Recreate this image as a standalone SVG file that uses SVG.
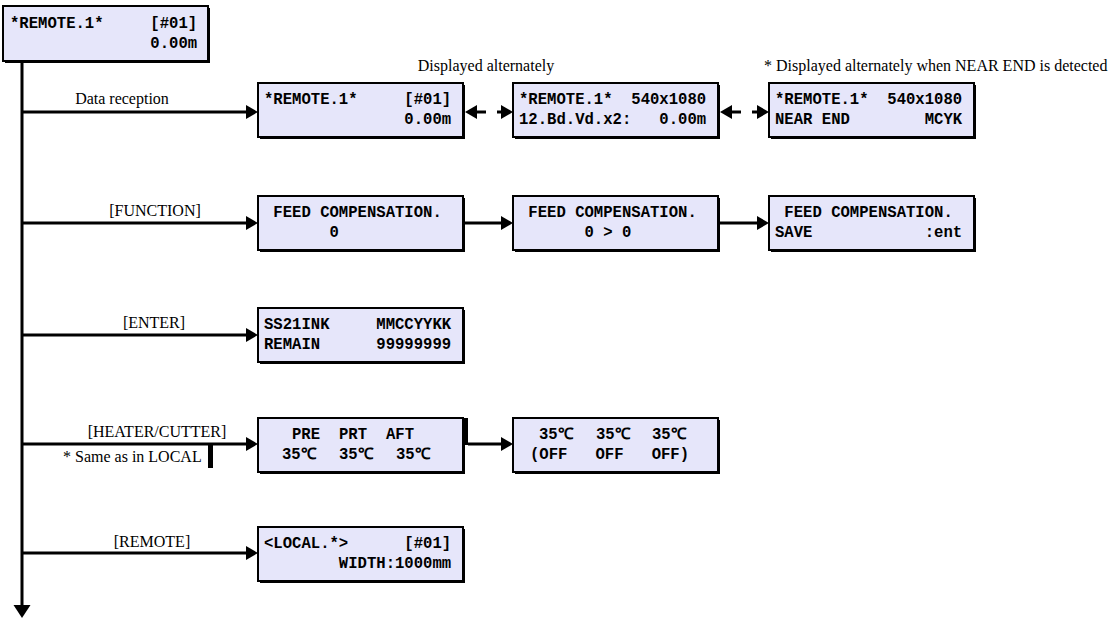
<svg xmlns="http://www.w3.org/2000/svg" width="1111" height="623" viewBox="0 0 1111 623">
<defs>
<style>
.sh{fill:#000}
.bx{fill:#E6E6FA;stroke:#000;stroke-width:2}
.lcd{font-family:"Liberation Mono","Courier New",monospace;font-weight:bold;font-size:15.6px;fill:#000;white-space:pre}
.lbl{font-family:"Liberation Serif","Times New Roman",serif;font-size:16px;fill:#000}
.ln{stroke:#000;stroke-width:3;fill:none}
.la{stroke:#000;stroke-width:3;fill:none;marker-end:url(#ah)}
.lv{stroke:#000;stroke-width:3;fill:none;marker-end:url(#av)}
</style>
<marker id="ah" markerUnits="userSpaceOnUse" markerWidth="13" markerHeight="14" refX="4" refY="7" orient="auto">
<path d="M0,0 L12,7 L0,14 Z" fill="#000"/>
</marker>
<marker id="av" markerUnits="userSpaceOnUse" markerWidth="14" markerHeight="18" refX="4" refY="8.5" orient="auto">
<path d="M0,0 L13,8.5 L0,17 Z" fill="#000"/>
</marker>
</defs>
<rect width="1111" height="623" fill="#fff"/>

<g id="connectors">
<line class="lv" x1="22" y1="61" x2="22" y2="609"/>
<line class="la" x1="22" y1="112" x2="250" y2="112"/>
<line class="la" x1="22" y1="223" x2="250" y2="223"/>
<line class="la" x1="22" y1="335" x2="250" y2="335"/>
<line class="la" x1="22" y1="444" x2="250" y2="444"/>
<line class="la" x1="22" y1="553" x2="250" y2="553"/>
<line class="la" x1="486" y1="112" x2="473" y2="112"/>
<line class="la" x1="497" y1="112" x2="505" y2="112"/>
<line class="la" x1="741" y1="112" x2="728" y2="112"/>
<line class="la" x1="752" y1="112" x2="761" y2="112"/>
<line class="la" x1="464" y1="223" x2="505" y2="223"/>
<line class="la" x1="719" y1="223" x2="761" y2="223"/>
<line class="la" x1="468" y1="444" x2="505" y2="444"/>
<rect x="463" y="418" width="5" height="27" fill="#000"/>
<rect x="208" y="445" width="5" height="23" fill="#000"/>
</g>

<g id="labels">
<text class="lbl" x="122" y="104" text-anchor="middle">Data reception</text>
<text class="lbl" x="155" y="216" text-anchor="middle">[FUNCTION]</text>
<text class="lbl" x="154" y="328" text-anchor="middle">[ENTER]</text>
<text class="lbl" x="157" y="437" text-anchor="middle">[HEATER/CUTTER]</text>
<text class="lbl" x="63" y="462">* Same as in LOCAL</text>
<text class="lbl" x="152" y="547" text-anchor="middle">[REMOTE]</text>
<text class="lbl" x="486" y="71" text-anchor="middle">Displayed alternately</text>
<text class="lbl" x="764" y="71">* Displayed alternately when NEAR END is detected</text>
</g>

<g id="n0">
<rect class="sh" x="5" y="8" width="205" height="55"/>
<rect class="bx" x="3" y="6" width="205" height="55"/>
<text class="lcd" x="10" y="28">*REMOTE.1*     [#01]</text>
<text class="lcd" x="10" y="48">               0.00m</text>
</g>

<g id="n1a">
<rect class="sh" x="260" y="85" width="205" height="54"/>
<rect class="bx" x="258" y="83" width="205" height="54"/>
<text class="lcd" x="264" y="104">*REMOTE.1*     [#01]</text>
<text class="lcd" x="264" y="124">               0.00m</text>
</g>
<g id="n1b">
<rect class="sh" x="515" y="85" width="205" height="54"/>
<rect class="bx" x="513" y="83" width="205" height="54"/>
<text class="lcd" x="519" y="104">*REMOTE.1*  540x1080</text>
<text class="lcd" x="519" y="124">12.Bd.Vd.x2:   0.00m</text>
</g>
<g id="n1c">
<rect class="sh" x="771" y="85" width="205" height="54"/>
<rect class="bx" x="769" y="83" width="205" height="54"/>
<text class="lcd" x="775" y="104">*REMOTE.1*  540x1080</text>
<text class="lcd" x="775" y="124">NEAR END        MCYK</text>
</g>

<g id="n2a">
<rect class="sh" x="260" y="198" width="205" height="54"/>
<rect class="bx" x="258" y="196" width="205" height="54"/>
<text class="lcd" x="264" y="217"> FEED COMPENSATION.</text>
<text class="lcd" x="264" y="237">       0</text>
</g>
<g id="n2b">
<rect class="sh" x="515" y="198" width="205" height="54"/>
<rect class="bx" x="513" y="196" width="205" height="54"/>
<text class="lcd" x="519" y="217"> FEED COMPENSATION.</text>
<text class="lcd" x="519" y="237">       0 &gt; 0</text>
</g>
<g id="n2c">
<rect class="sh" x="771" y="198" width="205" height="54"/>
<rect class="bx" x="769" y="196" width="205" height="54"/>
<text class="lcd" x="775" y="217"> FEED COMPENSATION.</text>
<text class="lcd" x="775" y="237">SAVE            :ent</text>
</g>

<g id="n3">
<rect class="sh" x="260" y="310" width="205" height="54"/>
<rect class="bx" x="258" y="308" width="205" height="54"/>
<text class="lcd" x="264" y="329">SS21INK     MMCCYYKK</text>
<text class="lcd" x="264" y="349">REMAIN      99999999</text>
</g>

<g id="n4a">
<rect class="sh" x="260" y="420" width="205" height="54"/>
<rect class="bx" x="258" y="418" width="205" height="54"/>
<text class="lcd" x="292" y="439">PRE</text>
<text class="lcd" x="339" y="439">PRT</text>
<text class="lcd" x="386" y="439">AFT</text>
<text class="lcd" x="282" y="459">35℃</text>
<text class="lcd" x="339" y="459">35℃</text>
<text class="lcd" x="396" y="459">35℃</text>
</g>
<g id="n4b">
<rect class="sh" x="515" y="420" width="205" height="54"/>
<rect class="bx" x="513" y="418" width="205" height="54"/>
<text class="lcd" x="539" y="439">35℃</text>
<text class="lcd" x="596" y="439">35℃</text>
<text class="lcd" x="652" y="439">35℃</text>
<text class="lcd" x="530" y="459">(OFF   OFF   OFF)</text>
</g>

<g id="n5">
<rect class="sh" x="260" y="529" width="205" height="54"/>
<rect class="bx" x="258" y="527" width="205" height="54"/>
<text class="lcd" x="264" y="548">&lt;LOCAL.*&gt;      [#01]</text>
<text class="lcd" x="264" y="568">        WIDTH:1000mm</text>
</g>
</svg>
